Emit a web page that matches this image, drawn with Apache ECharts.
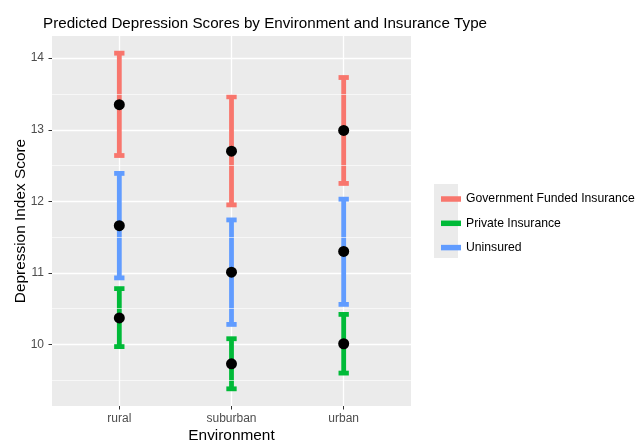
<!DOCTYPE html>
<html>
<head>
<meta charset="utf-8">
<script src="https://cdn.jsdelivr.net/npm/echarts@6/dist/echarts.min.js"></script>
<style>
  html, body { margin: 0; padding: 0; background: #ffffff; }
  #chart { width: 636px; height: 441px; }
</style>
</head>
<body>
<div id="chart"></div>
<script>
// Environments on the x axis
const categories = ['rural', 'suburban', 'urban'];

// Insurance groups and their colours
const groupNames = ['Government Funded Insurance', 'Private Insurance', 'Uninsured'];
const groupColors = ['#F8766D', '#00BA38', '#619CFF'];

// Predicted scores (mean) with lower / upper interval bounds, per environment
const govMean = [13.35, 12.70, 12.99];
const govLow  = [12.64, 11.95, 12.25];
const govHigh = [14.07, 13.46, 13.73];

const privMean = [10.37, 9.73, 10.01];
const privLow  = [9.97, 9.38, 9.60];
const privHigh = [10.78, 10.08, 10.42];

const uninsMean = [11.66, 11.01, 11.30];
const uninsLow  = [10.93, 10.28, 10.56];
const uninsHigh = [12.39, 11.74, 12.03];

// Axis ticks
const yTicks = [10, 11, 12, 13, 14];
const yMinorLines = [9.5, 10.5, 11.5, 12.5, 13.5];

const groups = [
  { mean: govMean, low: govLow, high: govHigh },
  { mean: privMean, low: privLow, high: privHigh },
  { mean: uninsMean, low: uninsLow, high: uninsHigh }
];

const FONT = '"Liberation Sans", Arial, Helvetica, sans-serif';
const CAP_HALF = 0.046; // half cap width in x-axis units

function errorBarRender(params, api) {
  const x = api.value(0);
  const lo = api.value(1);
  const hi = api.value(2);
  const pLo = api.coord([x, lo]);
  const pHi = api.coord([x, hi]);
  const capL = api.coord([x - CAP_HALF, lo])[0];
  const capR = api.coord([x + CAP_HALF, lo])[0];
  const style = { stroke: api.visual('color'), lineWidth: 4.8, lineCap: 'butt', fill: null };
  return {
    type: 'group',
    children: [
      { type: 'polyline', shape: { points: [[capL, pHi[1]], [capR, pHi[1]]] }, style },
      { type: 'line', shape: { x1: pLo[0], y1: pLo[1], x2: pHi[0], y2: pHi[1] }, style },
      { type: 'polyline', shape: { points: [[capL, pLo[1]], [capR, pLo[1]]] }, style }
    ]
  };
}

const errorSeries = groups.map((g, gi) => ({
  name: groupNames[gi],
  type: 'custom',
  renderItem: errorBarRender,
  itemStyle: { color: groupColors[gi] },
  encode: { x: 0, y: [1, 2] },
  data: categories.map((c, ci) => [ci + 1, g.low[ci], g.high[ci]]),
  z: 3,
  animation: false
}));

const meanPoints = [];
groups.forEach(g => categories.forEach((c, ci) => meanPoints.push([ci + 1, g.mean[ci]])));

const chart = echarts.init(document.getElementById('chart'), null, { renderer: 'canvas' });

chart.setOption({
  animation: false,
  backgroundColor: '#ffffff',
  textStyle: { fontFamily: FONT },
  title: {
    text: 'Predicted Depression Scores by Environment and Insurance Type',
    left: 38,
    top: 11,
    textStyle: { fontFamily: FONT, fontSize: 15.2, fontWeight: 'normal', color: '#000000' }
  },
  grid: {
    left: 52, top: 36, right: 225, bottom: 35,
    outerBoundsMode: 'none',
    containLabel: false,
    show: true, backgroundColor: '#EBEBEB', borderWidth: 0
  },
  legend: {
    orient: 'vertical',
    left: 436,
    top: 188,
    itemWidth: 20,
    itemHeight: 5.5,
    itemGap: 12.3,
    itemTextGap: 10,
    icon: 'rect',
    data: groupNames,
    textStyle: { fontFamily: FONT, fontSize: 12.2, color: '#000000' }
  },
  graphic: [{
    type: 'rect',
    left: 434, top: 184,
    shape: { width: 24, height: 74 },
    style: { fill: '#EBEBEB' },
    z: -1
  }],
  xAxis: {
    type: 'value',
    min: 0.4,
    max: 3.6,
    name: 'Environment',
    nameLocation: 'middle',
    nameMoveOverlap: false,
    nameGap: 22,
    nameTextStyle: { fontFamily: FONT, fontSize: 15.4, color: '#000000' },
    axisLine: { show: false },
    axisTick: { show: true, customValues: [1, 2, 3], length: 3.5, lineStyle: { color: '#333333', width: 1 } },
    axisLabel: {
      customValues: [1, 2, 3],
      formatter: v => categories[Math.round(v) - 1] || '',
      fontFamily: FONT, fontSize: 12, color: '#4D4D4D', margin: 7
    },
    splitLine: { show: true, lineStyle: { color: '#ffffff', width: 1.3 } }
  },
  yAxis: {
    type: 'value',
    min: 9.14,
    max: 14.31,
    name: 'Depression Index Score',
    nameLocation: 'middle',
    nameMoveOverlap: false,
    nameGap: 24,
    nameTextStyle: { fontFamily: FONT, fontSize: 15.4, color: '#000000' },
    axisLine: { show: false },
    axisTick: { show: true, customValues: yTicks, length: 3.5, lineStyle: { color: '#333333', width: 1 } },
    axisLabel: {
      customValues: yTicks,
      fontFamily: FONT, fontSize: 12, color: '#4D4D4D', margin: 8
    },
    splitLine: { show: true, lineStyle: { color: '#ffffff', width: 1.3 } }
  },
  series: [
    {
      // thin minor gridlines between the labelled values
      type: 'line',
      data: [],
      silent: true,
      z: 1,
      markLine: {
        silent: true,
        symbol: 'none',
        label: { show: false },
        lineStyle: { color: '#ffffff', width: 0.6, type: 'solid' },
        data: yMinorLines.map(v => ({ yAxis: v }))
      }
    },
    ...errorSeries,
    {
      name: 'mean',
      type: 'scatter',
      symbol: 'circle',
      symbolSize: 11,
      itemStyle: { color: '#000000', opacity: 1 },
      data: meanPoints,
      z: 5
    }
  ]
});
</script>
</body>
</html>
